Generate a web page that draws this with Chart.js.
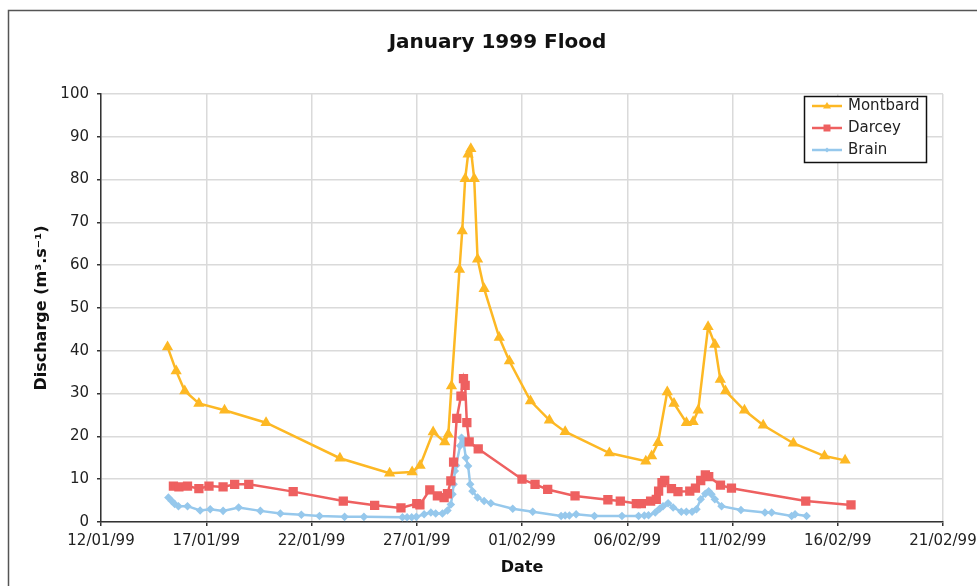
<!DOCTYPE html>
<html>
<head>
<meta charset="utf-8">
<script src="https://cdn.jsdelivr.net/npm/chart.js@4/dist/chart.umd.min.js"></script>
<style>
  html, body { margin: 0; padding: 0; background: #fff; }
  #wrap { width: 977px; height: 586px; }
</style>
</head>
<body>
<div id="wrap"><canvas id="floodChart" width="977" height="586"></canvas></div>
<script>
// days counted from 12/01/99, discharge in m3/s
var montbardDays = [3.16, 3.57, 3.98, 4.65, 5.87, 7.84, 11.35, 13.71, 14.78, 15.16, 15.78, 16.33, 16.5, 16.65,
    17.03, 17.16, 17.3, 17.44, 17.57, 17.73, 17.89, 18.2, 18.92, 19.4, 20.4, 21.3, 22.05, 24.15, 25.88, 26.16,
    26.46, 26.9, 27.22, 27.81, 28.13, 28.37, 28.84, 29.16, 29.42, 29.67, 30.57, 31.46, 32.89, 34.37, 35.35];
var montbardQ = [40.9, 35.3, 30.6, 27.7, 26.1, 23.2, 14.9, 11.4, 11.7, 13.2, 21.0, 18.7, 20.5, 31.8,
    59.0, 68.0, 80.2, 85.9, 87.2, 80.2, 61.4, 54.5, 43.1, 37.6, 28.3, 23.8, 21.1, 16.1, 14.2, 15.4,
    18.5, 30.4, 27.7, 23.2, 23.4, 26.1, 45.6, 41.5, 33.3, 30.6, 26.1, 22.6, 18.4, 15.4, 14.4];

var darceyDays = [3.44, 3.7, 4.11, 4.65, 5.13, 5.8, 6.35, 7.02, 9.13, 11.51, 13.0, 14.25, 15.0, 15.15, 15.62,
    15.98, 16.3, 16.46, 16.62, 16.75, 16.9, 17.1, 17.22, 17.3, 17.38, 17.49, 17.92, 20.0, 20.62, 21.22, 22.52,
    24.08, 24.67, 25.43, 25.67, 26.11, 26.38, 26.49, 26.65, 26.78, 27.1, 27.41, 27.97, 28.24, 28.49, 28.71,
    28.87, 29.43, 29.95, 33.48, 35.63];
var darceyQ = [8.4, 8.2, 8.4, 7.8, 8.4, 8.2, 8.8, 8.8, 7.1, 4.9, 3.9, 3.3, 4.3, 4.0, 7.5,
    6.1, 5.7, 6.6, 9.6, 14.0, 24.2, 29.4, 33.5, 31.9, 23.2, 18.7, 17.1, 10.0, 8.8, 7.6, 6.1,
    5.2, 4.9, 4.3, 4.3, 4.9, 5.3, 7.2, 9.2, 9.7, 7.8, 7.1, 7.2, 7.9, 9.7, 11.0,
    10.6, 8.6, 7.9, 4.9, 4.0];

var brainDays = [3.2, 3.36, 3.5, 3.68, 4.11, 4.71, 5.19, 5.8, 6.54, 7.57, 8.52, 9.52, 10.38, 11.57, 12.49,
    14.32, 14.54, 14.76, 14.98, 15.35, 15.67, 15.9, 16.22, 16.46, 16.62, 16.7, 16.75, 16.81, 16.87, 17.06,
    17.13, 17.22, 17.33, 17.44, 17.54, 17.65, 17.89, 18.2, 18.52, 19.56, 20.51, 21.86, 22.05, 22.25, 22.57,
    23.44, 24.75, 25.54, 25.81, 26.01, 26.33, 26.54, 26.7, 26.94, 27.18, 27.57, 27.81, 28.08, 28.29, 28.49,
    28.71, 28.87, 29.0, 29.16, 29.48, 30.4, 31.54, 31.86, 32.81, 32.97, 33.52];
var brainQ = [5.7, 4.9, 4.2, 3.7, 3.7, 2.7, 3.0, 2.6, 3.4, 2.6, 2.0, 1.7, 1.4, 1.2, 1.2,
    1.1, 1.1, 1.1, 1.2, 1.8, 2.2, 2.0, 2.0, 2.7, 4.1, 6.5, 8.8, 11.9, 13.2, 17.8,
    19.7, 18.9, 15.0, 13.1, 8.8, 7.2, 5.7, 4.9, 4.4, 3.1, 2.4, 1.4, 1.5, 1.5, 1.8,
    1.4, 1.4, 1.4, 1.5, 1.6, 2.2, 3.1, 3.7, 4.4, 3.4, 2.4, 2.4, 2.4, 3.0, 5.3,
    6.6, 7.2, 6.5, 5.3, 3.7, 2.8, 2.2, 2.2, 1.4, 1.8, 1.4];

var seriesNames = ["Montbard", "Darcey", "Brain"];
var seriesColors = ["rgb(253, 184, 36)", "rgb(238, 96, 96)", "rgb(150, 200, 236)"];
var chartTitle = "January 1999 Flood";

var startDate = Date.UTC(1999, 0, 12);

function pts(days, q) {
    return days.map(function (d, i) { return { x: d, y: q[i] }; });
}

function fmtDate(v) {
    var d = new Date(startDate + v * 86400000);
    var dd = String(d.getUTCDate()).padStart(2, "0");
    var mm = String(d.getUTCMonth() + 1).padStart(2, "0");
    var yy = String(d.getUTCFullYear()).slice(2);
    return dd + "/" + mm + "/" + yy;
}

Chart.defaults.font.family = "'DejaVu Sans', Verdana, sans-serif";
Chart.defaults.color = "#222";

// outer frame, white background and the title (centred on the whole frame, not the plot)
var framePlugin = {
    id: "frame",
    beforeDraw: function (chart) {
        var c = chart.ctx;
        c.save();
        c.fillStyle = "#fff";
        c.fillRect(0, 0, chart.width, chart.height);
        c.strokeStyle = "#555";
        c.lineWidth = 1.5;
        c.strokeRect(8.5, 10.5, chart.width + 20, chart.height + 20);
        c.fillStyle = "#111";
        c.font = "bold 20px 'DejaVu Sans'";
        c.textAlign = "center";
        c.textBaseline = "middle";
        c.fillText(chartTitle, 497.5, 43);
        c.restore();
    }
};

// boxed legend inside the plot, top right
var boxLegend = {
    id: "boxLegend",
    afterDraw: function (chart) {
        var c = chart.ctx;
        var x0 = 804.5, y0 = 96.5, w = 122, h = 66;
        c.save();
        c.fillStyle = "#fff";
        c.fillRect(x0, y0, w, h);
        c.strokeStyle = "#111";
        c.lineWidth = 1.5;
        c.strokeRect(x0, y0, w, h);
        chart.data.datasets.forEach(function (ds, i) {
            var y = 106 + i * 22;
            c.strokeStyle = ds.borderColor;
            c.lineWidth = 2.5;
            c.beginPath();
            c.moveTo(812, y);
            c.lineTo(842, y);
            c.stroke();
            c.fillStyle = ds.borderColor;
            c.beginPath();
            if (ds.pointStyle === "triangle") {
                c.moveTo(827, y - 4); c.lineTo(831, y + 2.5); c.lineTo(823, y + 2.5);
            } else if (ds.pointStyle === "rect") {
                c.rect(823.5, y - 3.5, 7, 7);
            } else {
                c.moveTo(827, y - 2.5); c.lineTo(829.5, y); c.lineTo(827, y + 2.5); c.lineTo(824.5, y);
            }
            c.closePath();
            c.fill();
            c.fillStyle = "#222";
            c.font = "15px 'DejaVu Sans'";
            c.textAlign = "left";
            c.textBaseline = "middle";
            c.fillText(ds.label, 848, y);
        });
        c.restore();
    }
};

const floodChart = new Chart("floodChart", {
    type: "line",
    data: {
        datasets: [
            { label: seriesNames[0], data: pts(montbardDays, montbardQ), borderColor: seriesColors[0],
              backgroundColor: seriesColors[0], pointStyle: "triangle", pointRadius: 4, borderWidth: 2.5 },
            { label: seriesNames[1], data: pts(darceyDays, darceyQ), borderColor: seriesColors[1],
              backgroundColor: seriesColors[1], pointStyle: "rect", pointRadius: 4.8, borderWidth: 2.5 },
            { label: seriesNames[2], data: pts(brainDays, brainQ), borderColor: seriesColors[2],
              backgroundColor: seriesColors[2], pointStyle: "rectRot", pointRadius: 2.5, borderWidth: 2.5 }
        ]
    },
    options: {
        responsive: false,
        animation: false,
        events: [],
        layout: { padding: { left: 0, right: 34, top: 94, bottom: 0 } },
        elements: { line: { tension: 0 }, point: { borderWidth: 0 } },
        plugins: {
            legend: { display: false },
            tooltip: { enabled: false },
            title: { display: false }
        },
        scales: {
            x: {
                type: "linear",
                min: 0,
                max: 40,
                ticks: {
                    stepSize: 5,
                    padding: 6,
                    maxRotation: 0,
                    font: { size: 15 },
                    callback: function (v) { return fmtDate(v); }
                },
                grid: { color: "#dadada", lineWidth: 1.5, tickLength: 4, tickColor: "#333" },
                border: { color: "#333", width: 1.5 },
                title: { display: true, text: "Date", color: "#111", font: { size: 16, weight: "bold" },
                         padding: { top: 0, bottom: 8.4 } },
                afterFit: function (s) { s.height = 64; s.paddingLeft = 0; s.paddingRight = 0; }
            },
            y: {
                min: 0,
                max: 100,
                ticks: { stepSize: 10, padding: 8, font: { size: 15 } },
                grid: { color: "#dadada", lineWidth: 1.5, tickLength: 4, tickColor: "#333" },
                border: { color: "#333", width: 1.5 },
                title: { display: true, text: "Discharge (m³.s⁻¹)", color: "#111",
                         font: { size: 16, weight: "bold" }, padding: { top: 32.4, bottom: 0 } },
                afterFit: function (s) { s.width = 101; s.paddingTop = 0; s.paddingBottom = 0; }
            }
        }
    },
    plugins: [framePlugin, boxLegend]
});
</script>
</body>
</html>
